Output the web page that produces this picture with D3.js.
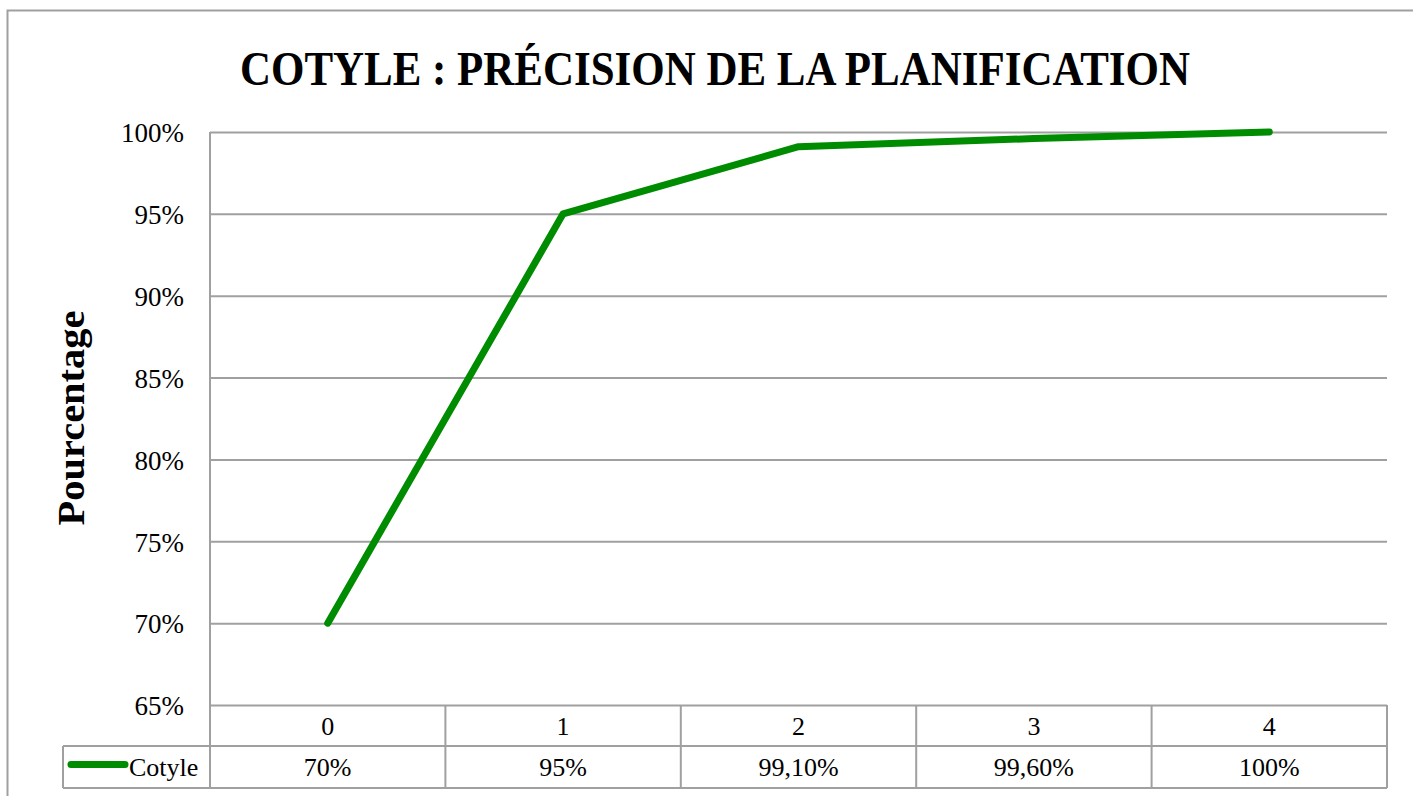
<!DOCTYPE html>
<html>
<head>
<meta charset="utf-8">
<script src="https://cdn.jsdelivr.net/npm/d3@7"></script>
<style>
  body { margin: 0; background: #fff; }
  svg { display: block; font-family: "Liberation Serif", "DejaVu Serif", serif; }
</style>
</head>
<body>
<div id="chart"></div>
<script>
// data
var categories = ["0", "1", "2", "3", "4"];
var cotyleValues = [70, 95, 99.1, 99.6, 100];
var tableLabels = ["70%", "95%", "99,10%", "99,60%", "100%"];
var yTicks = [65, 70, 75, 80, 85, 90, 95, 100];
var seriesName = "Cotyle";

var width = 1413, height = 796;
var plot = {left: 210, right: 1387, top: 132, bottom: 705};
var rowH = 41;
var green = "#008c00", gridColor = "#a0a0a0";

var svg = d3.select("#chart").append("svg")
    .attr("width", width)
    .attr("height", height);

// chart frame
svg.append("rect")
    .attr("x", 7.5).attr("y", 10.5)
    .attr("width", width + 20).attr("height", height + 20)
    .attr("fill", "none")
    .attr("stroke", gridColor)
    .attr("stroke-width", 2);

// title
svg.append("text")
    .attr("x", 715).attr("y", 85)
    .attr("text-anchor", "middle")
    .attr("font-weight", "bold")
    .attr("font-size", 48)
    .attr("textLength", 950)
    .attr("lengthAdjust", "spacingAndGlyphs")
    .text("COTYLE : PRÉCISION DE LA PLANIFICATION");

var x = d3.scaleBand()
    .domain(categories)
    .range([plot.left, plot.right]);

var y = d3.scaleLinear()
    .domain([65, 100])
    .range([plot.bottom, plot.top]);

// gridlines
var yAxis = d3.axisLeft(y)
    .tickValues(yTicks)
    .tickSize(-(plot.right - plot.left))
    .tickPadding(26)
    .tickFormat(function(d) { return d + "%"; });

var gy = svg.append("g")
    .attr("transform", "translate(" + plot.left + ",0)")
    .call(yAxis);
gy.select(".domain").remove();
gy.selectAll(".tick line")
    .attr("stroke", gridColor)
    .attr("stroke-width", 2);
gy.selectAll(".tick text")
    .attr("font-family", "Liberation Serif, serif")
    .attr("font-size", 27)
    .attr("fill", "#000")
    .attr("dy", "0.36em");

// vertical axis line, running down through the table
svg.append("line")
    .attr("x1", plot.left).attr("x2", plot.left)
    .attr("y1", plot.top).attr("y2", plot.bottom + 2 * rowH + 1)
    .attr("stroke", gridColor).attr("stroke-width", 2);

// y axis title
svg.append("text")
    .attr("transform", "translate(84,418) rotate(-90)")
    .attr("text-anchor", "middle")
    .attr("font-weight", "bold")
    .attr("font-size", 37)
    .attr("textLength", 215)
    .attr("lengthAdjust", "spacingAndGlyphs")
    .text("Pourcentage");

// data table
var table = svg.append("g");
var tableBottom = plot.bottom + 2 * rowH + 1;

table.selectAll(".vline")
    .data(categories)
    .enter().append("line")
    .attr("x1", function(d) { return x(d) + x.bandwidth(); })
    .attr("x2", function(d) { return x(d) + x.bandwidth(); })
    .attr("y1", plot.bottom)
    .attr("y2", tableBottom)
    .attr("stroke", gridColor).attr("stroke-width", 2);

table.append("line")
    .attr("x1", 63).attr("x2", plot.right)
    .attr("y1", plot.bottom + rowH).attr("y2", plot.bottom + rowH)
    .attr("stroke", gridColor).attr("stroke-width", 2);
table.append("line")
    .attr("x1", 63).attr("x2", plot.right)
    .attr("y1", tableBottom).attr("y2", tableBottom)
    .attr("stroke", gridColor).attr("stroke-width", 2);
table.append("line")
    .attr("x1", 63).attr("x2", 63)
    .attr("y1", plot.bottom + rowH).attr("y2", tableBottom)
    .attr("stroke", gridColor).attr("stroke-width", 2);

table.selectAll(".cat")
    .data(categories)
    .enter().append("text")
    .attr("x", function(d) { return x(d) + x.bandwidth() / 2; })
    .attr("y", plot.bottom + rowH / 2)
    .attr("dy", "0.36em")
    .attr("text-anchor", "middle")
    .attr("font-size", 26)
    .text(function(d) { return d; });

table.selectAll(".val")
    .data(tableLabels)
    .enter().append("text")
    .attr("x", function(d, i) { return x(categories[i]) + x.bandwidth() / 2; })
    .attr("y", plot.bottom + rowH * 1.5)
    .attr("dy", "0.36em")
    .attr("text-anchor", "middle")
    .attr("font-size", 26)
    .text(function(d) { return d; });

// legend key in the table
table.append("line")
    .attr("x1", 71).attr("x2", 125)
    .attr("y1", plot.bottom + rowH * 1.5 - 2).attr("y2", plot.bottom + rowH * 1.5 - 2)
    .attr("stroke", green).attr("stroke-width", 7)
    .attr("stroke-linecap", "round");
table.append("text")
    .attr("x", 129)
    .attr("y", plot.bottom + rowH * 1.5)
    .attr("dy", "0.36em")
    .attr("font-size", 26)
    .text(seriesName);

// series line
var line = d3.line()
    .x(function(d, i) { return x(categories[i]) + x.bandwidth() / 2; })
    .y(function(d) { return y(d); });

svg.append("path")
    .datum(cotyleValues)
    .attr("d", line)
    .attr("fill", "none")
    .attr("stroke", green)
    .attr("stroke-width", 7)
    .attr("stroke-linejoin", "round")
    .attr("stroke-linecap", "round");
</script>
</body>
</html>
